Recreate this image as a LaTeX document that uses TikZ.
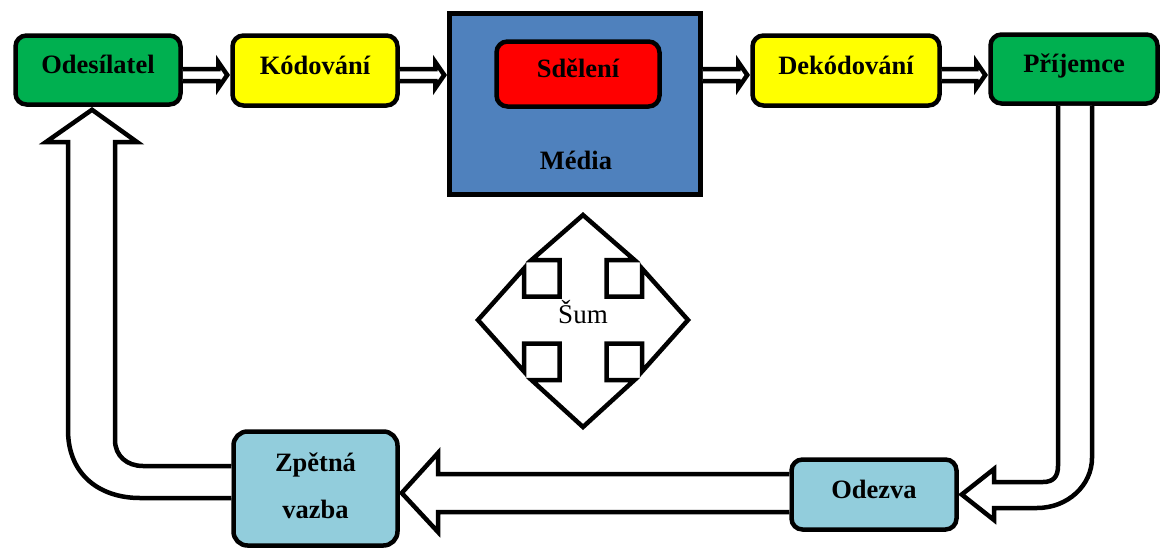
\documentclass[tikz,border=0pt]{standalone}
\usepackage{fontspec}
\setmainfont{Liberation Serif}
\usetikzlibrary{calc}
\definecolor{cgreen}{HTML}{00B050}
\definecolor{cyellow}{HTML}{FFFF00}
\definecolor{cred}{HTML}{FF0000}
\definecolor{cblue}{HTML}{4F81BD}
\definecolor{clblue}{HTML}{92CDDC}
\newcommand{\flatarrow}[2]{%
  \path[thinarr] let \p1=(#1 |- arrowy), \p2=(#2 |- arrowy) in
    (\x1,\y1+6pt) -- (\x2-12pt,\y1+6pt) -- (\x2-12pt,\y1+13pt) -- (\x2-3pt,\y1)
    -- (\x2-12pt,\y1-13pt) -- (\x2-12pt,\y1-6pt) -- (\x1,\y1-6pt);}
\begin{document}
\begin{tikzpicture}[x=1pt,y=-1pt,
  lbl/.style={font=\fontsize{26.5}{31}\selectfont\bfseries},
  box/.style={draw, line width=4.5pt, rounded corners=11pt, lbl, inner sep=0pt},
  onel/.style={box, text height=18pt, text depth=11pt},
  thinarr/.style={draw, fill=white, line width=4.5pt, line join=miter},
  bigarr/.style={draw, fill=white, line width=4.5pt, line join=miter},
]
\useasboundingbox (0,0) rectangle (1168,549);
\coordinate (arrowy) at (0,75);

% boxes
\node[onel, fill=cgreen, minimum width=165pt, minimum height=69pt] (odes) at (98,70) {Odesílatel};
\node[onel, fill=cyellow, minimum width=165pt, minimum height=70pt] (kod) at (315,70.5) {Kódování};
\node[draw, line width=4.5pt, fill=cblue, minimum width=251pt, minimum height=181pt] (media) at (575,104) {};
\node[onel, fill=cred, minimum width=163pt, minimum height=65pt] (sdel) at (578,74) {Sdělení};
\node[lbl, anchor=base] (medialbl) at (576,169) {Média};
\node[onel, fill=cyellow, minimum width=187pt, minimum height=70pt] (dek) at (846,70.5) {Dekódování};
\node[onel, fill=cgreen, minimum width=167pt, minimum height=69pt] (prij) at (1074,69) {Příjemce};
\node[onel, fill=clblue, minimum width=165pt, minimum height=70pt] (odez) at (874,494.5) {Odezva};
\node[box, fill=clblue, minimum width=164pt, minimum height=114pt, rounded corners=14pt,
  align=center, font=\fontsize{26.5}{47}\selectfont\bfseries] (zpet) at (315.5,488.5)
  {Zpětná\\vazba\rule[-6pt]{0pt}{6pt}};

% top flow arrows
\flatarrow{odes.east}{kod.west}
\flatarrow{kod.east}{media.west}
\flatarrow{media.east}{dek.west}
\flatarrow{dek.east}{prij.west}

% Příjemce -> Odezva
\path[bigarr] ($(prij.south)+(-16,0)$) -- (1058,466)
  .. controls (1058,477) and (1053,482) .. (1043,482) -- (994,482) -- (994,469)
  -- ($(odez.east)+(3,0)$) -- (994,520) -- (994,508) -- (1037,508)
  .. controls (1068,508) and (1092,485) .. (1092,458) -- ($(prij.south)+(18,0)$);

% Odezva -> Zpětná vazba
\path[bigarr] ($(odez.west)+(0,-20.5)$) -- (438,474) -- (438,453)
  -- ($(zpet.east)+(2,4.5)$) -- (438,532) -- (438,512) -- ($(odez.west)+(0,17.5)$);

% Zpětná vazba -> Odesílatel
\path[bigarr] ($(zpet.west)+(0,-22.5)$) -- (143,466)
  .. controls (127,466) and (115,456) .. (115,440) -- (115,142) -- (137,142)
  -- ($(odes.south)+(-6,3)$) -- (46,142) -- (68,142) -- (68,430)
  .. controls (68,475) and (100,498) .. (140,498) -- ($(zpet.west)+(0,9.5)$);

% Šum
\begin{scope}[shift={(583,320)}]
\path[bigarr] (-23.5,-23.5) -- (-23.5,-60) -- (-51.5,-60) -- (0,-105) -- (51.5,-60)
  -- (23.5,-60) -- (23.5,-23.5) -- (59,-23.5) -- (59,-51.5) -- (105,0)
  -- (59,51.5) -- (59,23.5) -- (23.5,23.5) -- (23.5,60) -- (51.5,60)
  -- (0,107) -- (-51.5,60) -- (-23.5,60) -- (-23.5,23.5) -- (-59,23.5)
  -- (-59,51.5) -- (-105,0) -- (-59,-51.5) -- (-59,-23.5) -- cycle;
\end{scope}
\node[font=\fontsize{27}{31}\selectfont, anchor=base] (sum) at (583,323) {Šum};
\end{tikzpicture}
\end{document}
